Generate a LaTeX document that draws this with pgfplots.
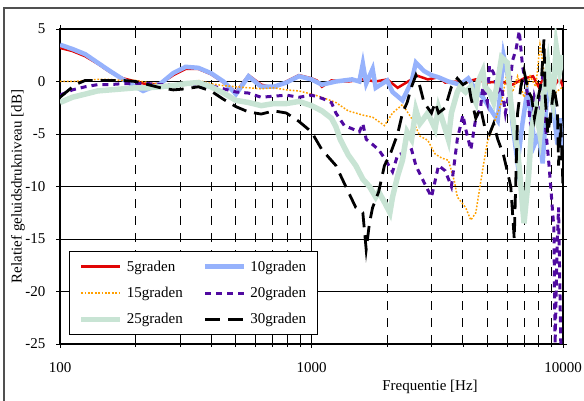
\documentclass[border=0pt]{standalone}
\usepackage{fontspec}
\setmainfont{Liberation Serif}
\usepackage{pgfplots}
\pgfplotsset{compat=1.18}
\definecolor{c5}{RGB}{225,5,5}
\definecolor{c10}{RGB}{150,178,252}
\definecolor{c15}{RGB}{255,160,0}
\definecolor{c20}{RGB}{80,10,160}
\definecolor{c25}{RGB}{200,228,212}
\definecolor{frameg}{RGB}{80,80,80}
\begin{document}
\begin{tikzpicture}
\useasboundingbox (0pt,0pt) rectangle (584pt,401pt);
\draw[frameg, line width=1.5pt] (4pt,0pt) -- (4pt,393pt) -- (584pt,393pt);
\begin{axis}[
  at={(60pt,57pt)}, anchor=south west,
  scale only axis, width=503pt, height=315pt,
  font=\fontsize{15}{18}\selectfont,
  /pgf/number format/assume math mode=true,
  xmode=log, xmin=100, xmax=10000, ymin=-25, ymax=5,
  xtick={100,1000,10000}, xticklabels={100,1000,10000},
  ytick={-25,-20,-15,-10,-5,0,5}, yticklabels={-25,-20,-15,-10,-5,0,5},
  axis line style={line width=2.8pt},
  tick align=outside, major tick length=4pt, minor tick length=3pt,
  tick style={black, line width=0.8pt},
  xmajorgrids, ymajorgrids, xminorgrids,
  major grid style={black, line width=0.9pt},
  minor grid style={black, line width=0.9pt, dash pattern=on 9pt off 8pt},
  extra y ticks={0}, extra y tick labels={},
  extra y tick style={grid style={gray, line width=1.8pt}, major tick length=0pt},
  xticklabel style={yshift=-11pt},
  yticklabel style={xshift=-7pt},
  xlabel={Frequentie [Hz]},
  xlabel style={at={(axis description cs:0.7356,-0.136)}, anchor=center},
  ylabel={Relatief geluidsdrukniveau [dB]},
  ylabel style={at={(axis description cs:-0.0835,0.5)}, anchor=center},
  legend columns=2,
  legend cell align=left,
  legend style={at={(axis description cs:0.018,0.029)}, anchor=south west,
    draw=black, line width=0.8pt, fill=white, row sep=10.5pt,
    inner xsep=9pt, inner ysep=7pt,
    /tikz/every odd column/.append style={column sep=2pt},
    /tikz/every even column/.append style={column sep=18pt}},
  legend image code/.code={\draw[#1] (0pt,0pt) -- (39pt,0pt);},
]
% 5 graden
\addplot[c5, line width=2.5pt] coordinates {
(100,3.2)(112,2.9)(126,2.4)(141,1.7)(158,0.9)(178,0.3)(200,0.0)(224,-0.3)(251,-0.2)(282,0.6)
(316,1.2)(355,1.2)(398,0.7)(447,-0.1)(501,-1.0)(562,0.6)(631,-0.3)(708,-0.6)(794,0.0)(891,0.6)
(1000,0.3)(1050,0.1)(1100,-0.5)(1200,0.1)(1400,0.0)(1600,0.2)(1800,0.0)(2000,0.2)(2200,-0.6)
(2500,0.2)(2600,0.6)(2900,0.2)(3200,0.4)(3400,-0.1)(3800,0.0)(4000,-0.1)(4500,0.2)(5000,-0.1)
(5600,0.0)(6300,-0.3)(7000,0.3)(7600,0.5)(8000,-0.5)(8500,0.5)(8900,0.2)(9300,-0.3)(9700,0.3)(10000,-0.5)
};
\addlegendentry{5graden}
% 10 graden
\addplot[c10, line width=4.5pt] coordinates {
(100,3.5)(112,3.1)(126,2.6)(141,1.8)(158,1.0)(178,0.2)(200,-0.5)(214,-0.9)(224,-0.7)(251,-0.2)
(282,0.8)(316,1.4)(355,1.3)(398,0.8)(447,0.0)(501,-1.2)(562,0.5)(631,-0.5)(708,-0.5)(794,-0.1)
(891,0.5)(1000,0.2)(1100,-0.3)(1250,0.0)(1450,0.2)(1550,0.0)(1600,1.7)(1650,-0.2)(1750,1.2)
(1800,-0.6)(2000,0.1)(2100,-1.0)(2300,-1.8)(2500,0.0)(2600,1.8)(2800,1.0)(3000,0.6)(3200,0.4)
(3500,0.0)(3900,-0.3)(4200,0.3)(4500,-0.8)(4800,-1.5)(5100,-2.5)(5500,-3.7)(5800,2.5)(6100,0.0)
(6300,-4.0)(6600,-7.8)(6900,-4.0)(7200,-1.0)(7500,-3.5)(7700,-6.0)(8000,-5.0)(8300,-7.8)
(8600,-2.0)(8900,-0.5)(9200,-3.0)(9500,-6.0)(9700,-3.5)(10000,-6.5)
};
\addlegendentry{10graden}
% 15 graden
\addplot[c15, line width=1.5pt, dash pattern=on 1.7pt off 1.7pt] coordinates {
(100,0.0)(112,0.0)(126,0.1)(141,0.2)(158,0.2)(178,0.1)(200,0.1)(224,-0.1)(251,-0.3)(282,-0.3)
(316,-0.2)(355,0.1)(398,-0.2)(447,-0.4)(501,-0.5)(562,-0.6)(631,-0.7)(708,-0.6)(794,-0.8)
(891,-0.9)(1000,-1.2)(1100,-1.5)(1250,-2.0)(1400,-2.8)(1600,-3.2)(1750,-3.4)(1950,-4.2)
(2100,-3.0)(2300,-2.2)(2500,-3.5)(2700,-5.2)(2900,-5.6)(3100,-6.9)(3300,-7.3)(3500,-7.5)
(3700,-9.5)(3800,-11.0)(4100,-12.0)(4300,-13.2)(4500,-12.5)(4800,-8.3)(5000,-5.8)(5400,-3.5)
(5700,-2.0)(6000,1.0)(6300,-1.0)(6600,0.5)(7000,-1.5)(7400,0.5)(7800,-0.5)(8100,3.5)(8400,1.0)
(8900,-0.5)(9400,-1.0)(10000,-0.5)
};
\addlegendentry{15graden}
% 20 graden
\addplot[c20, line width=3pt, dash pattern=on 6pt off 5pt] coordinates {
(100,-1.3)(112,-0.8)(126,-0.5)(141,-0.3)(158,-0.3)(178,-0.2)(200,-0.2)(224,-0.2)(251,-0.3)
(282,-0.3)(316,-0.2)(355,-0.4)(398,-0.4)(447,-0.7)(501,-1.0)(562,-1.1)(631,-1.5)(708,-1.4)
(794,-1.3)(891,-1.5)(1000,-1.3)(1100,-1.6)(1200,-2.0)(1250,-3.0)(1350,-4.2)(1450,-4.5)
(1550,-4.8)(1600,-4.0)(1650,-5.5)(1750,-6.0)(1850,-6.5)(1950,-7.3)(2100,-8.6)(2200,-7.0)
(2400,-6.7)(2500,-6.5)(2600,-8.0)(2800,-9.6)(3000,-11.0)(3200,-8.0)(3400,-8.5)(3600,-10.0)
(3800,-5.5)(4000,-3.2)(4100,-4.5)(4300,-6.5)(4500,-3.5)(4700,-2.5)(4800,-0.5)(5000,-2.0)
(5100,1.5)(5300,0.8)(5500,-1.0)(5700,-0.5)(5900,-3.0)(6100,-1.0)(6300,2.0)(6500,3.0)(6700,4.8)
(6900,1.5)(7200,-1.0)(7500,-5.0)(7700,-1.5)(8000,-3.0)(8300,0.5)(8500,-4.0)(8800,-8.0)
(9000,-11.0)(9200,-14.0)(9300,-25.0)(9500,-15.0)(9600,-12.0)(9800,-25.0)(10000,-25.0)
};
\addlegendentry{20graden}
% 25 graden
\addplot[c25, line width=5.5pt] coordinates {
(100,-2.0)(112,-1.5)(126,-1.2)(141,-0.9)(158,-0.8)(178,-0.7)(200,-0.6)(224,-0.6)(251,-0.5)
(282,-0.4)(316,-0.2)(355,-0.1)(398,-0.5)(447,-1.1)(501,-1.8)(562,-2.0)(631,-2.3)(708,-2.1)
(794,-2.1)(891,-1.9)(1000,-2.3)(1100,-2.8)(1200,-3.5)(1250,-4.3)(1300,-5.5)(1400,-7.0)
(1500,-8.0)(1600,-9.3)(1700,-10.0)(1800,-11.0)(1850,-10.5)(1950,-11.5)(2050,-12.5)(2100,-11.0)
(2200,-9.0)(2300,-7.5)(2400,-4.8)(2500,-5.5)(2600,-2.7)(2700,-4.0)(2800,-3.5)(2900,-3.0)
(3100,-4.5)(3200,-2.5)(3400,-4.5)(3500,-5.5)(3600,-3.0)(3800,-1.0)(3900,-0.5)(4100,-1.0)
(4300,-0.5)(4400,-1.5)(4500,-2.0)(4600,0.0)(4800,1.0)(4900,-0.5)(5100,-1.0)(5300,-2.0)
(5500,0.0)(5700,2.3)(6000,1.8)(6200,-2.0)(6400,-4.5)(6600,-6.5)(6800,-10.0)(7000,-13.5)
(7300,-9.0)(7500,-4.5)(7800,-2.5)(8100,-5.0)(8400,-1.0)(8700,1.5)(8900,-1.0)(9100,-2.0)
(9400,3.3)(9700,1.0)(10000,2.5)
};
\addlegendentry{25graden}
% 30 graden
\addplot[black, line width=2.8pt, dash pattern=on 15pt off 8pt] coordinates {
(100,-1.5)(106,-1.0)(115,-0.3)(126,0.1)(141,0.1)(158,0.1)(178,0.1)(200,0.0)(224,-0.3)(251,-0.6)
(282,-0.8)(316,-0.7)(355,-0.5)(398,-0.9)(447,-1.7)(501,-2.4)(562,-2.9)(631,-3.1)(708,-2.8)
(794,-3.0)(891,-3.8)(1000,-4.8)(1100,-6.5)(1250,-8.0)(1400,-10.5)(1500,-12.0)(1600,-12.5)
(1650,-16.0)(1700,-13.5)(1750,-12.0)(1850,-10.5)(1950,-8.0)(2050,-7.0)(2200,-5.0)(2300,-3.0)
(2400,-2.0)(2500,-0.5)(2600,0.6)(2700,-0.5)(2800,-2.0)(3000,-3.0)(3100,-2.0)(3200,-3.0)
(3400,-2.5)(3600,-0.5)(3800,0.3)(4000,-0.3)(4200,0.0)(4300,-1.5)(4500,-3.5)(4700,-2.5)
(4900,-4.5)(5100,-5.0)(5300,-4.0)(5500,-5.5)(5800,-7.0)(6000,-8.5)(6200,-10.0)(6300,-12.5)
(6400,-15.0)(6600,-3.0)(6800,-0.5)(7000,1.0)(7300,-1.0)(7500,-1.5)(7700,-3.5)(7900,-2.0)
(8200,0.0)(8400,4.0)(8500,-1.5)(8700,-5.0)(9000,-2.5)(9200,-0.5)(9500,-2.5)(9600,-8.0)
(9800,-4.0)(10000,-10.0)
};
\addlegendentry{30graden}
\end{axis}
\end{tikzpicture}
\end{document}
